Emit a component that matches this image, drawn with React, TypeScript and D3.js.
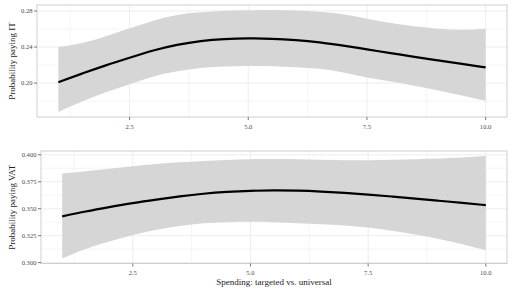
import React from "react";
import * as d3 from "d3";

const xs = [1, 1.5, 2, 2.5, 3, 3.5, 4, 4.5, 5, 5.5, 6, 6.5, 7, 7.5, 8, 8.5, 9, 9.5, 10];

const itFit = [0.201, 0.2106, 0.2198, 0.2282, 0.2365, 0.2428, 0.247, 0.249, 0.2497, 0.2493, 0.2479, 0.2455, 0.2417, 0.2374, 0.2333, 0.229, 0.2251, 0.2212, 0.2174];
const itUpper = [0.24, 0.2445, 0.252, 0.2608, 0.2692, 0.2755, 0.2785, 0.2802, 0.2808, 0.281, 0.2805, 0.2792, 0.2765, 0.2715, 0.2668, 0.263, 0.2603, 0.2592, 0.2604];
const itLower = [0.168, 0.1795, 0.1898, 0.1988, 0.2073, 0.2132, 0.2168, 0.2184, 0.2189, 0.2187, 0.2176, 0.2158, 0.2117, 0.2062, 0.2018, 0.197, 0.1918, 0.1862, 0.1803];

const vatFit = [0.3429, 0.3475, 0.3515, 0.3553, 0.3585, 0.3615, 0.364, 0.3657, 0.3667, 0.367, 0.3668, 0.366, 0.3648, 0.3632, 0.3613, 0.3594, 0.3574, 0.3554, 0.3533];
const vatUpper = [0.3826, 0.3848, 0.387, 0.3895, 0.3915, 0.393, 0.3943, 0.3953, 0.396, 0.3962, 0.396, 0.3955, 0.395, 0.395, 0.3955, 0.396, 0.3966, 0.3975, 0.3988];
const vatLower = [0.3039, 0.3125, 0.3195, 0.3257, 0.3305, 0.334, 0.3365, 0.3375, 0.3378, 0.3375, 0.3365, 0.3355, 0.3345, 0.3325, 0.3295, 0.326, 0.322, 0.317, 0.3115];

const xTicks = [2.5, 5.0, 7.5, 10.0];
const xMinor = [1.25, 3.75, 6.25, 8.75];
const itTicks = [0.2, 0.24, 0.28];
const itMinor = [0.18, 0.22, 0.26];
const vatTicks = [0.3, 0.325, 0.35, 0.375, 0.4];
const vatMinor = [0.3125, 0.3375, 0.3625, 0.3875];

const FONT = "'Liberation Serif', 'DejaVu Serif', serif";

type PanelProps = {
  left: number; right: number; top: number; bottom: number;
  fit: number[]; upper: number[]; lower: number[];
  yTicks: number[]; yMinor: number[]; yFmt: (v: number) => string;
  title: string;
};

function Panel(p: PanelProps) {
  const xPad = (10 - 1) * 0.05;
  const x = d3.scaleLinear().domain([1 - xPad, 10 + xPad]).range([p.left, p.right]);
  const lo = d3.min(p.lower)!;
  const hi = d3.max(p.upper)!;
  const yPad = (hi - lo) * 0.05;
  const y = d3.scaleLinear().domain([lo - yPad, hi + yPad]).range([p.bottom, p.top]);
  const idx = xs.map((_, i) => i);
  const area = d3.area<number>().x(i => x(xs[i])).y0(i => y(p.lower[i])).y1(i => y(p.upper[i])).curve(d3.curveNatural);
  const line = d3.line<number>().x(i => x(xs[i])).y(i => y(p.fit[i])).curve(d3.curveBasis);
  const grid = "#ebebeb";
  return (
    <g>
      {p.yMinor.map(v => <line key={"ym" + v} x1={p.left} x2={p.right} y1={y(v)} y2={y(v)} stroke={grid} strokeWidth={0.5} />)}
      {xMinor.map(v => <line key={"xm" + v} x1={x(v)} x2={x(v)} y1={p.top} y2={p.bottom} stroke={grid} strokeWidth={0.5} />)}
      {p.yTicks.map(v => <line key={"yg" + v} x1={p.left} x2={p.right} y1={y(v)} y2={y(v)} stroke={grid} strokeWidth={0.9} />)}
      {xTicks.map(v => <line key={"xg" + v} x1={x(v)} x2={x(v)} y1={p.top} y2={p.bottom} stroke={grid} strokeWidth={0.9} />)}
      <path d={area(idx)!} fill="#d6d6d6" />
      <path d={line(idx)!} fill="none" stroke="#000" strokeWidth={2.2} />
      <rect x={p.left} y={p.top} width={p.right - p.left} height={p.bottom - p.top} fill="none" stroke="#cfcfcf" strokeWidth={1} />
      {p.yTicks.map(v => (
        <g key={"yt" + v}>
          <line x1={p.left - 3} x2={p.left} y1={y(v)} y2={y(v)} stroke="#555" strokeWidth={0.8} />
          <text x={p.left - 4.5} y={y(v)} dy="0.33em" textAnchor="end" fontSize={6.6} fill="#4d4d4d" fontFamily={FONT}>{p.yFmt(v)}</text>
        </g>
      ))}
      {xTicks.map(v => (
        <g key={"xt" + v}>
          <line x1={x(v)} x2={x(v)} y1={p.bottom} y2={p.bottom + 3} stroke="#555" strokeWidth={0.8} />
          <text x={x(v)} y={p.bottom + 11.5} textAnchor="middle" fontSize={6.6} fill="#4d4d4d" fontFamily={FONT}>{d3.format(".1f")(v)}</text>
        </g>
      ))}
      <text transform={`translate(${11.5},${(p.top + p.bottom) / 2}) rotate(-90)`} textAnchor="middle" dy="0.35em" fontSize={9} fill="#222" fontFamily={FONT}>{p.title}</text>
    </g>
  );
}

export default function App() {
  return (
    <svg width={512} height={291} style={{ position: "absolute", left: 0, top: 0, background: "#fff" }}>
      <rect width={512} height={291} fill="#fff" />
      <Panel left={37} right={507} top={5} bottom={117} fit={itFit} upper={itUpper} lower={itLower}
        yTicks={itTicks} yMinor={itMinor} yFmt={d3.format(".2f")} title="Probability paying IT" />
      <Panel left={41} right={507} top={151} bottom={263.5} fit={vatFit} upper={vatUpper} lower={vatLower}
        yTicks={vatTicks} yMinor={vatMinor} yFmt={d3.format(".3f")} title="Probability paying VAT" />
      <text x={274} y={285} textAnchor="middle" fontSize={9} fill="#222" fontFamily={FONT}>Spending: targeted vs. universal</text>
    </svg>
  );
}
